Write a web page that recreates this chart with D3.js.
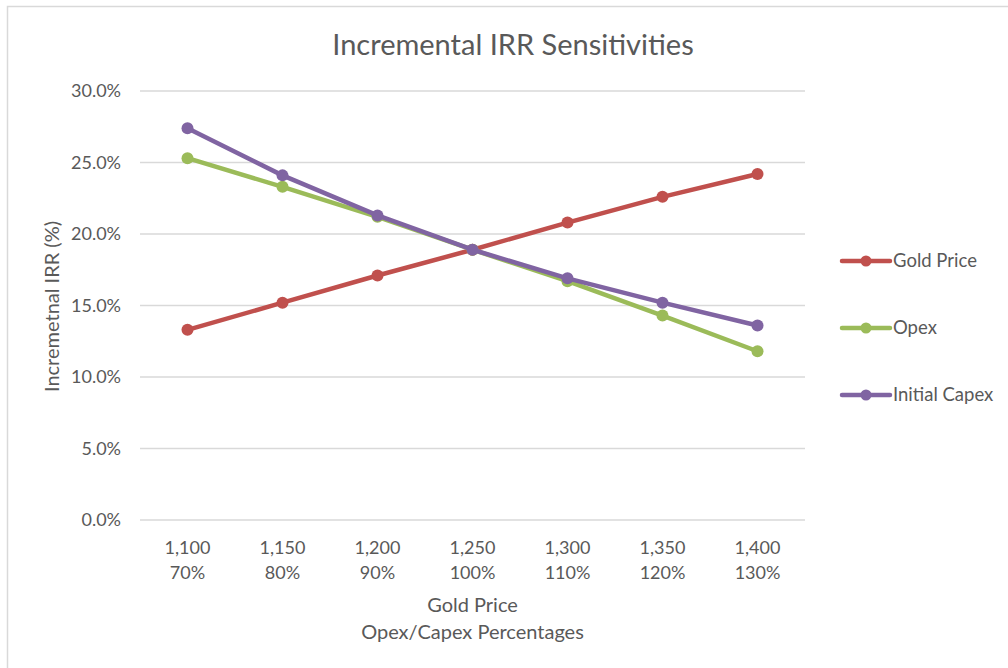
<!DOCTYPE html>
<html>
<head>
<meta charset="utf-8">
<script src="https://cdn.jsdelivr.net/npm/d3@7"></script>
<style>
  html, body { margin: 0; padding: 0; background: #fff; }
  svg { display: block; }
  text { font-family: Lato, "Open Sans", sans-serif; fill: #595959; }
</style>
</head>
<body>
<svg id="chart" width="1008" height="668"></svg>
<script>
// Categories along the x axis (two label rows per tick)
const goldPrices = ["1,100", "1,150", "1,200", "1,250", "1,300", "1,350", "1,400"];
const costPercents = ["70%", "80%", "90%", "100%", "110%", "120%", "130%"];

// Incremental IRR (%) for each sensitivity
const goldPriceIRR = [13.3, 15.2, 17.1, 18.9, 20.8, 22.6, 24.2];
const opexIRR = [25.3, 23.3, 21.2, 18.9, 16.7, 14.3, 11.8];
const initialCapexIRR = [27.4, 24.1, 21.3, 18.9, 16.9, 15.2, 13.6];

const yTicks = [0, 5, 10, 15, 20, 25, 30];

const seriesNames = ["Gold Price", "Opex", "Initial Capex"];
const seriesValues = [goldPriceIRR, opexIRR, initialCapexIRR];
const seriesColors = ["#C0504D", "#9BBB59", "#8064A2"];

const svg = d3.select("#chart");

// Chart-area frame
svg.append("rect")
  .attr("x", 7.5).attr("y", 6.5)
  .attr("width", 1020).attr("height", 700)
  .attr("fill", "#fff")
  .attr("stroke", "#d9d9d9").attr("stroke-width", 1.5);

const plot = { left: 140, right: 805, top: 91, bottom: 520 };

const x = d3.scaleBand()
  .domain(goldPrices)
  .range([plot.left, plot.right]);

const y = d3.scaleLinear()
  .domain([0, 30])
  .range([plot.bottom, plot.top]);

// Title
svg.append("text")
  .attr("x", 513).attr("y", 55)
  .attr("text-anchor", "middle")
  .style("font-size", "29px")
  .text("Incremental IRR Sensitivities");

// Horizontal gridlines
svg.append("g")
  .selectAll("line")
  .data(yTicks)
  .join("line")
  .attr("x1", plot.left).attr("x2", plot.right)
  .attr("y1", d => y(d)).attr("y2", d => y(d))
  .attr("stroke", "#d9d9d9").attr("stroke-width", 1.3);

// Y axis labels
const yAxis = d3.axisLeft(y)
  .tickValues(yTicks)
  .tickSize(0)
  .tickPadding(19)
  .tickFormat(d => d3.format(".1f")(d) + "%");

const yG = svg.append("g")
  .attr("transform", `translate(${plot.left},0)`)
  .call(yAxis);
yG.select(".domain").remove();
yG.selectAll("text")
  .style("font-size", "18px")
  .style("font-family", "Lato, sans-serif")
  .attr("fill", "#595959");

// X axis labels (two rows)
const xAxis = d3.axisBottom(x).tickSize(0).tickFormat("");
const xG = svg.append("g")
  .attr("transform", `translate(0,${plot.bottom})`)
  .call(xAxis);
xG.select(".domain").remove();

const xLabels = svg.append("g")
  .selectAll("text")
  .data(goldPrices)
  .join("text")
  .attr("x", d => x(d) + x.bandwidth() / 2)
  .attr("y", 554)
  .attr("text-anchor", "middle")
  .style("font-size", "18px");
xLabels.append("tspan")
  .attr("x", d => x(d) + x.bandwidth() / 2)
  .text(d => d);
xLabels.append("tspan")
  .attr("x", d => x(d) + x.bandwidth() / 2)
  .attr("dy", 24.5)
  .text((d, i) => costPercents[i]);

// X axis title (two rows)
const xTitle = svg.append("text")
  .attr("x", (plot.left + plot.right) / 2)
  .attr("y", 612)
  .attr("text-anchor", "middle")
  .style("font-size", "20px");
xTitle.append("tspan")
  .attr("x", (plot.left + plot.right) / 2)
  .text("Gold Price");
xTitle.append("tspan")
  .attr("x", (plot.left + plot.right) / 2)
  .attr("dy", 27)
  .text("Opex/Capex Percentages");

// Y axis title
svg.append("text")
  .attr("transform", `translate(59,${(plot.top + plot.bottom) / 2 + 1}) rotate(-90)`)
  .attr("text-anchor", "middle")
  .style("font-size", "20px")
  .text("Incremetnal IRR (%)");

// Series lines and markers
const line = d3.line()
  .x((d, i) => x(goldPrices[i]) + x.bandwidth() / 2)
  .y(d => y(d));

seriesValues.forEach((vals, s) => {
  const g = svg.append("g");
  g.append("path")
    .datum(vals)
    .attr("d", line)
    .attr("fill", "none")
    .attr("stroke", seriesColors[s])
    .attr("stroke-width", 4.5)
    .attr("stroke-linejoin", "round")
    .attr("stroke-linecap", "round");
  g.selectAll("circle")
    .data(vals)
    .join("circle")
    .attr("cx", (d, i) => x(goldPrices[i]) + x.bandwidth() / 2)
    .attr("cy", d => y(d))
    .attr("r", 6)
    .attr("fill", seriesColors[s]);
});

// Legend
const legendY = [261, 328, 395];
const legend = svg.append("g")
  .selectAll("g")
  .data(seriesNames)
  .join("g")
  .attr("transform", (d, i) => `translate(0,${legendY[i]})`);
legend.append("line")
  .attr("x1", 842).attr("x2", 890)
  .attr("y1", 0).attr("y2", 0)
  .attr("stroke", (d, i) => seriesColors[i])
  .attr("stroke-width", 4.5)
  .attr("stroke-linecap", "round");
legend.append("circle")
  .attr("cx", 866).attr("cy", 0).attr("r", 5.5)
  .attr("fill", (d, i) => seriesColors[i]);
legend.append("text")
  .attr("x", 893).attr("y", 0)
  .attr("dy", "0.35em")
  .style("font-size", "18.5px")
  .text(d => d);
</script>
</body>
</html>
